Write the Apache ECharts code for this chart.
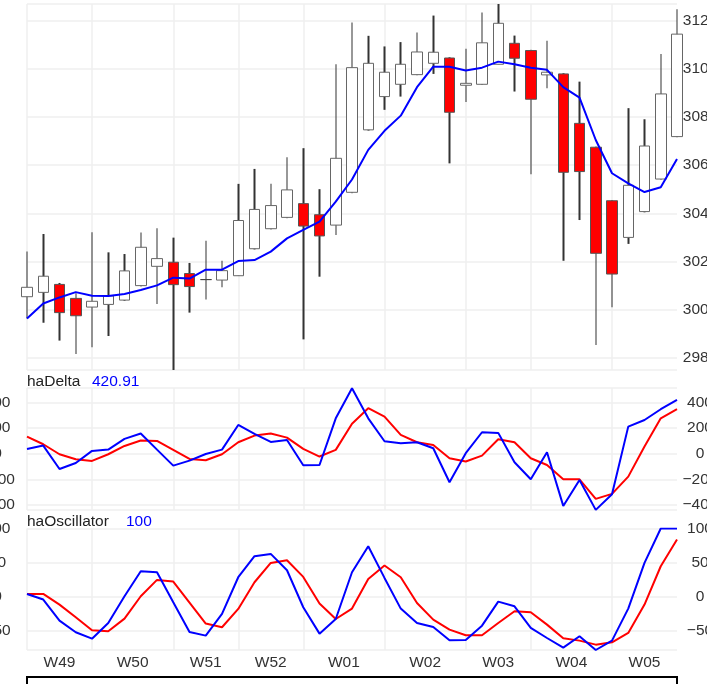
<!DOCTYPE html>
<html>
<head>
<meta charset="utf-8">
<script src="https://cdn.jsdelivr.net/npm/echarts@6/dist/echarts.min.js"></script>
<style>
  html, body { margin: 0; padding: 0; background: #fff; }
  #chart { width: 707px; height: 684px; }
</style>
</head>
<body>
<div id="chart"></div>
<script>
// weeks shown on the time axis and how many trading days each one has
const weekLabels = ['W49', 'W50', 'W51', 'W52', 'W01', 'W02', 'W03', 'W04', 'W05'];
const weekLengths = [4, 5, 4, 4, 5, 5, 4, 5, 5];

// heikin-ashi candles
const opens  = [3005.4, 3007.2, 3010.5, 3004.7, 3001.1, 3002.2, 3004.0, 3010.0, 3018.0, 3019.7,
                3015.0, 3012.5, 3012.3, 3014.1, 3025.3, 3033.6, 3038.3, 3044.0, 3039.4, 3035.1,
                3048.7, 3074.6, 3088.4, 3093.5, 3097.5, 3102.2, 3104.4, 3093.1, 3093.5, 3101.8,
                3110.5, 3107.5, 3097.4, 3097.8, 3077.3, 3067.4, 3045.2, 3030.0, 3040.7, 3054.2, 3071.8];
const closes = [3009.3, 3013.9, 2998.8, 2997.5, 3003.5, 3005.7, 3016.1, 3025.9, 3021.2, 3010.4,
                3009.6, 3012.5, 3016.2, 3037.0, 3041.6, 3043.2, 3049.7, 3034.7, 3030.6, 3062.8,
                3100.4, 3102.2, 3098.5, 3101.8, 3106.9, 3106.8, 3081.9, 3093.9, 3110.7, 3118.8,
                3104.3, 3087.3, 3098.5, 3057.0, 3057.3, 3023.4, 3014.8, 3051.6, 3067.9, 3089.5, 3114.3];
const lows   = [2996.4, 2994.6, 2987.2, 2981.6, 2984.4, 2989.1, 3003.7, 3009.6, 3002.4, 2975.0,
                2998.8, 3004.2, 3009.3, 3014.1, 3025.0, 3033.3, 3037.9, 2987.7, 3013.7, 3031.0,
                3048.3, 3074.3, 3082.9, 3088.4, 3097.2, 3097.8, 3060.7, 3086.2, 3093.2, 3101.8,
                3090.5, 3056.2, 3091.9, 3020.3, 3037.2, 2985.4, 3001.0, 3027.3, 3040.4, 3053.9, 3071.5];
const highs  = [3024.1, 3031.4, 3011.1, 3006.8, 3032.1, 3023.8, 3023.1, 3032.0, 3033.8, 3029.9,
                3019.4, 3028.6, 3020.3, 3052.2, 3058.4, 3052.2, 3063.2, 3067.0, 3050.0, 3101.8,
                3119.1, 3113.6, 3109.2, 3111.0, 3115.0, 3122.0, 3104.7, 3108.2, 3123.3, 3126.8,
                3113.7, 3107.8, 3111.6, 3098.1, 3094.6, 3067.7, 3045.5, 3083.6, 3079.0, 3106.1, 3124.6];
// moving average over the candles
const maLine = [2996.4, 3002.6, 3005.1, 3007.3, 3005.8, 3005.7, 3006.5, 3008.2, 3010.1, 3013.3,
                3012.9, 3016.6, 3016.6, 3020.2, 3020.6, 3024.1, 3029.6, 3033.1, 3036.5, 3044.8,
                3054.0, 3066.3, 3074.2, 3080.5, 3092.3, 3100.8, 3100.8, 3099.2, 3100.4, 3102.9,
                3101.8, 3100.4, 3099.5, 3092.3, 3088.0, 3070.4, 3056.6, 3052.4, 3048.8, 3050.8, 3062.5];

// haDelta panel
const haDelta = [37.5, 63.6, -119, -72, 22, 32.4, 116, 158, 32, -93,
                 -54, -2, 32, 225, 155, 92, 108, -90, -88, 277,
                 512, 277, 97.5, 82, 90, 43, -223, 4, 168, 163,
                 -67, -200, 11, -408, -205, -439, -317, 212, 264, 348, 420.91];
const haDeltaSignal = [134, 74, -4, -43, -56, -4, 61, 103, 100, 30,
                       -41, -51, -4, 90, 142, 158, 126, 37.5, -22, 30,
                       235, 356, 290, 147, 90, 69, -35, -61, -15, 113,
                       90, -35, -88, -200, -200, -353, -314, -179, 56, 277, 348];

// haOscillator panel
const haOsc = [3.6, -4.7, -35.7, -52.9, -62.3, -39.2, 0.2, 37.0, 35.6, -8.7,
               -52.4, -57.8, -25.9, 28.2, 59.2, 62.6, 38.5, -16.0, -54.9, -33.3,
               35.6, 73.9, 27.2, -18.0, -39.2, -45.1, -64.7, -64.2, -43.1, -7.7,
               -14.6, -46.5, -61.3, -75.5, -58.8, -79.0, -65.2, -18.0, 49.3, 100, 100];
const haOscSignal = [3.6, 3.6, -12.1, -30.8, -50.0, -51.5, -32.8, 0.2, 24.3, 21.8,
                     -9.2, -40.1, -45.5, -18.5, 20.8, 49.3, 53.3, 28.7, -10.6, -33.3,
                     -18.0, 25.7, 45.4, 28.2, -9.7, -34.2, -49.0, -57.3, -57.3, -39.2,
                     -21.9, -23.4, -41.6, -61.8, -65.2, -71.1, -67.7, -53.9, -12.1, 44.4, 83.8];

// 派生：每根K线的类别名、每周起点、周标签位置
const days = weekLabels.flatMap((w, i) => Array.from({ length: weekLengths[i] }, (_, d) => w + '-' + (d + 1)));
const weekStarts = [];
let acc = 0;
weekLengths.forEach(n => { weekStarts.push(acc); acc += n; });
const lastIdx = days.length - 1;
const weekEnds = weekStarts.slice(1).concat([lastIdx]);
const weekMids = weekStarts.map((s, i) => (s + weekEnds[i]) / 2);

const FONT = '"Liberation Sans", Arial, sans-serif';
const FS = 15.5;
const gridColor = '#efefef';

const isWeekStart = (idx) => weekStarts.indexOf(idx) >= 0;
// R 风格的刻度文字：不加千分位，负号用 U+2212
const fmtTick = (v) => (v < 0 ? '\u2212' + Math.abs(v) : String(v));

function catAxis(gridIndex) {
    return {
        type: 'category', gridIndex: gridIndex, data: days, boundaryGap: false,
        axisLine: { show: false }, axisTick: { show: false }, axisLabel: { show: false },
        splitLine: { show: true, interval: isWeekStart, lineStyle: { color: gridColor, width: 1.5 } }
    };
}

function valAxis(gridIndex, pos, min, max, split, showSplit, showMax) {
    return {
        type: 'value', gridIndex: gridIndex, position: pos, min: min, max: max, splitNumber: split,
        scale: true,
        axisLine: { show: false }, axisTick: { show: false },
        axisLabel: {
            margin: pos === 'right' ? 6 : 12.5,
            showMinLabel: false, showMaxLabel: showMax,
            formatter: (v) => '{c|' + fmtTick(v) + '}',
            rich: { c: { width: 34, align: 'center', color: '#333', fontSize: FS, fontFamily: FONT } }
        },
        splitLine: { show: showSplit, lineStyle: { color: gridColor, width: 1.5 } }
    };
}

function panelGrid(top, height, extra) {
    return Object.assign({ left: 27, right: 30, top: top, height: height, containLabel: false, outerBoundsMode: 'none' }, extra || {});
}

const chart = echarts.init(document.getElementById('chart'));

const option = {
    animation: false,
    backgroundColor: '#ffffff',
    textStyle: { fontFamily: FONT },
    grid: [
        panelGrid(4, 366),
        panelGrid(388, 122),
        panelGrid(528.5, 121.5),
        panelGrid(677, 40, { show: true, borderColor: '#000', borderWidth: 2, backgroundColor: 'transparent' })
    ],
    xAxis: [
        catAxis(0),
        catAxis(1),
        catAxis(2),
        {
            type: 'value', gridIndex: 2, min: 0, max: lastIdx, position: 'bottom',
            axisLine: { show: false }, axisTick: { show: false }, splitLine: { show: false },
            axisLabel: {
                customValues: weekMids,
                formatter: (v) => weekLabels[weekMids.indexOf(v)] || '',
                margin: 5, color: '#333', fontSize: FS, fontFamily: FONT
            }
        },
        {
            type: 'category', gridIndex: 3, data: days, boundaryGap: false, position: 'top',
            axisLine: { show: false }, axisLabel: { show: false }, splitLine: { show: false },
            axisTick: { show: true, inside: true, length: 9, interval: isWeekStart, lineStyle: { color: '#000', width: 2 } }
        }
    ],
    yAxis: [
        valAxis(0, 'right', 2975, 3126.8, 7, true, false),
        valAxis(1, 'left', -440, 514, 5, true, false),
        valAxis(1, 'right', -440, 514, 5, false, false),
        valAxis(2, 'left', -79, 100, 4, true, true),
        valAxis(2, 'right', -79, 100, 4, false, true),
        { type: 'value', gridIndex: 3, show: false }
    ],
    graphic: [
        { type: 'text', style: { text: 'haDelta', x: 27, y: 382, verticalAlign: 'middle', fill: '#222', font: FS + 'px ' + FONT } },
        { type: 'text', style: { text: String(haDelta[lastIdx]), x: 92, y: 382, verticalAlign: 'middle', fill: '#0000ff', font: FS + 'px ' + FONT } },
        { type: 'text', style: { text: 'haOscillator', x: 27, y: 522, verticalAlign: 'middle', fill: '#222', font: FS + 'px ' + FONT } },
        { type: 'text', style: { text: String(haOsc[lastIdx]), x: 126, y: 522, verticalAlign: 'middle', fill: '#0000ff', font: FS + 'px ' + FONT } }
    ],
    series: [
        {
            // wicks: thin filled bar from low to high
            type: 'candlestick', xAxisIndex: 0, yAxisIndex: 0, clip: false, barWidth: 2,
            data: days.map((d, i) => [lows[i], highs[i], lows[i], highs[i]]),
            itemStyle: { color: '#333', color0: '#333', borderWidth: 0, borderColor: '#333', borderColor0: '#333' }
        },
        {
            type: 'candlestick', xAxisIndex: 0, yAxisIndex: 0, clip: false, barWidth: 11,
            data: days.map((d, i) => [opens[i], closes[i], Math.min(opens[i], closes[i]), Math.max(opens[i], closes[i])]),
            itemStyle: {
                color: '#ffffff', color0: '#ff0000',
                borderColor: '#666', borderColor0: '#555', borderColorDoji: '#444', borderWidth: 1
            }
        },
        {
            type: 'line', xAxisIndex: 0, yAxisIndex: 0, data: maLine, symbol: 'none',
            lineStyle: { color: '#0000ff', width: 2 }
        },
        {
            type: 'line', xAxisIndex: 1, yAxisIndex: 1, data: haDeltaSignal, symbol: 'none',
            lineStyle: { color: '#ff0000', width: 2 }
        },
        {
            type: 'line', xAxisIndex: 1, yAxisIndex: 1, data: haDelta, symbol: 'none',
            lineStyle: { color: '#0000ff', width: 2 }
        },
        {
            type: 'line', xAxisIndex: 2, yAxisIndex: 3, data: haOscSignal, symbol: 'none',
            lineStyle: { color: '#ff0000', width: 2 }
        },
        {
            type: 'line', xAxisIndex: 2, yAxisIndex: 3, data: haOsc, symbol: 'none',
            lineStyle: { color: '#0000ff', width: 2 }
        }
    ]
};

chart.setOption(option);
</script>
</body>
</html>
